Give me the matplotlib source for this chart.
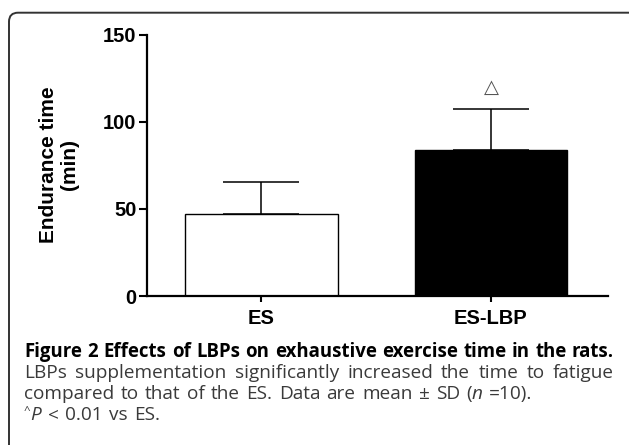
import numpy as np
import matplotlib
matplotlib.use("Agg")
import matplotlib.pyplot as plt
from matplotlib.patches import FancyBboxPatch

# data
groups = ["ES", "ES-LBP"]
means = [47.2, 83.5]
sds = [18.3, 23.7]
bar_colors = ["white", "black"]
yticks = [0, 50, 100, 150]
sig_marks = ["", "\u25b3"]

caption_title = "Figure 2 Effects of LBPs on exhaustive exercise time in the rats."
caption_line2 = "LBPs supplementation significantly increased the time to fatigue"

W, H = 629, 445
fig = plt.figure(figsize=(W / 100, H / 100), dpi=100)
fig.patch.set_facecolor("white")

# rounded frame around the figure panel (partly cut off at right/bottom)
frame = FancyBboxPatch((0.09, -0.3), 7.0, 4.323 + 0.3,
                       boxstyle="round,pad=0,rounding_size=0.09",
                       transform=fig.dpi_scale_trans, fill=False,
                       lw=1.4, ec="#333333")
fig.add_artist(frame)

# ---- bar chart ----
ax = fig.add_axes([146.7 / W, 1 - 296 / H, (607.7 - 146.7) / W, (296 - 34.5) / H])
x = np.arange(len(groups))
ax.bar(x, means, width=0.664, color=bar_colors, edgecolor="black", linewidth=1.0, zorder=2)
ax.errorbar(x, means, yerr=[np.zeros(len(sds)), sds], fmt="none", ecolor="black",
            elinewidth=1.1, capsize=27.5, capthick=1.1, zorder=1)
for xi, m, s, mark in zip(x, means, sds, sig_marks):
    if mark:
        ax.text(xi, m + s + 12.5, mark, ha="center", va="center", fontsize=14,
                color="#555555", family="DejaVu Sans")

ax.set_xlim(-0.5, 1.5085)
ax.set_ylim(0, 150)
ax.set_yticks(yticks)
ax.set_xticks(x)
ax.set_xticklabels(groups)
for side in ("top", "right"):
    ax.spines[side].set_visible(False)
for side in ("left", "bottom"):
    ax.spines[side].set_linewidth(1.6)
ax.tick_params(axis="y", direction="out", length=6, width=1.5, pad=1.5)
ax.tick_params(axis="x", direction="out", length=4, width=1.5, pad=5)
for lab in ax.get_xticklabels() + ax.get_yticklabels():
    lab.set_fontfamily("Liberation Sans")
    lab.set_fontweight("bold")
    lab.set_fontsize(14.5)
ax.set_ylabel("Endurance time\n(min)", fontfamily="Liberation Sans", fontweight="bold",
              fontsize=15, linespacing=1.1)
ax.yaxis.set_label_coords(-0.147, 0.503)

# ---- caption, laid out word by word ----
renderer = fig.canvas.get_renderer()


def text_width(s, props):
    t = fig.text(0, 0, s, **props)
    w = t.get_window_extent(renderer).width
    t.remove()
    return w


# caption size chosen so that the bold first line just fills the column
fs = 10 * 586 / text_width(caption_title, dict(family="Open Sans", fontsize=10, weight="bold"))
fr = fs * 1.02
REG = dict(family="Open Sans", fontsize=fr, color="#3a3a3a")
ITA = dict(family="Open Sans", fontsize=fr, color="#3a3a3a", style="italic")
BLD = dict(family="Open Sans", fontsize=fs, color="black", weight="bold")
SUP = dict(family="Open Sans", fontsize=fr * 0.6, color="#3a3a3a")


def draw_line(words, baseline, x0=24, x1=614, justify=False):
    # words: list of words, each word a list of (text, props) glued together
    widths = [sum(text_width(s, p) for s, p in w) for w in words]
    space = text_width("a a", REG) - text_width("aa", REG)
    if justify and len(words) > 1:
        gap = (x1 - x0 - sum(widths)) / (len(words) - 1)
    else:
        gap = space * 1.3
    xp = x0
    for w, wd in zip(words, widths):
        xx = xp
        for s, p in w:
            dy = 6 if p is SUP else 0
            fig.text(xx / W, 1 - (baseline - dy) / H, s, va="baseline", ha="left", **p)
            xx += text_width(s, p)
        xp += wd + gap


draw_line([[(w, BLD)] for w in caption_title.split()], 357, justify=True)
draw_line([[(w, REG)] for w in caption_line2.split()], 378, justify=True)
line3 = [[(w, REG)] for w in "compared to that of the ES. Data are mean \u00b1 SD".split()]
line3 += [[("(", REG), ("n", ITA)], [("=10).", REG)]]
draw_line(line3, 399)
line4 = [[("^", SUP), ("P", ITA)]] + [[(w, REG)] for w in "< 0.01 vs ES.".split()]
draw_line(line4, 420)

fig.savefig("out.png", dpi=100)
